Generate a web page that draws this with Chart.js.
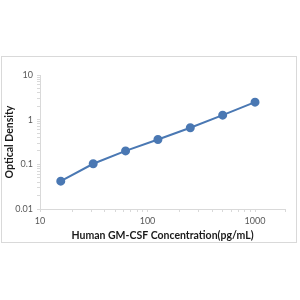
<!DOCTYPE html>
<html><head><meta charset="utf-8">
<script src="https://cdn.jsdelivr.net/npm/chart.js@4/dist/chart.umd.min.js"></script>
<style>html,body{margin:0;padding:0;background:#fff}#w{width:300px;height:300px;position:relative}</style>
</head><body><div id="w"><canvas id="c" width="300" height="300"></canvas></div>
<script>
const concentrations = [15.6, 31.25, 62.5, 125, 250, 500, 1000];
const odValues = [0.042, 0.103, 0.2, 0.36, 0.66, 1.26, 2.47];
const xMajorTicks = [10, 100, 1000];
const yMajorTicks = [0.01, 0.1, 1, 10];
const xTitle = 'Human GM-CSF Concentration(pg/mL)';
const yTitle = 'Optical Density';

function minorList(min, max){
  const out = [];
  for (let d = min; d < max; d *= 10) {
    for (let k = 1; k < 10; k++) { const v = d*k; if (v <= max) out.push(v); }
  }
  out.push(max);
  return out.filter((v,i,a)=>a.indexOf(v)===i);
}
const isMajor = (v, majors) => majors.some(m => Math.abs(m - v)/m < 1e-9);

const borderPlugin = {
  id: 'frame',
  beforeDraw(chart){
    const ctx = chart.ctx; ctx.save();
    ctx.fillStyle='#fff'; ctx.fillRect(0,0,300,300);
    ctx.strokeStyle='#d9d9d9'; ctx.lineWidth=1;
    ctx.strokeRect(1.5,56.5,295,186);
    ctx.restore();
  }
};

const tickFont = {family:'Lato', size:9};
new Chart(document.getElementById('c'), {
  type:'line',
  data:{ datasets:[{
    data: concentrations.map((x,i)=>({x, y: odValues[i]})),
    borderColor:'#4a78b3', backgroundColor:'#4a78b3',
    borderWidth:2, pointRadius:3.5, pointHoverRadius:3.5, tension:0
  }]},
  options:{
    responsive:false, animation:false, devicePixelRatio:1,
    layout:{padding:{left:3, top:75, right:15, bottom:58}},
    plugins:{legend:{display:false}, tooltip:{enabled:false}},
    scales:{
      x:{ type:'logarithmic', min:10, max:1900,
        afterBuildTicks(s){ s.ticks = minorList(10,1900).map(v=>({value:v})); },
        afterFit(s){ s.height = 33; },
        ticks:{ autoSkip:false, maxRotation:0, font:tickFont, color:'#595959', padding:4,
          callback(v){ return isMajor(v, xMajorTicks) ? String(v) : ''; } },
        grid:{ drawOnChartArea:false, tickLength:3, color:'#d9d9d9' },
        border:{ color:'#d9d9d9' },
        title:{ display:true, text:xTitle, color:'#1a1a1a', font:{family:'Lato', size:10.5, weight:'bold'}, padding:{top:0,bottom:0} }
      },
      y:{ type:'logarithmic', min:0.01, max:10,
        afterBuildTicks(s){ s.ticks = minorList(0.01,10).map(v=>({value:v})); },
        afterFit(s){ s.width = 37; },
        ticks:{ autoSkip:false, font:tickFont, color:'#595959', padding:4,
          callback(v){ if(!isMajor(v, yMajorTicks)) return ''; return v>=1?String(v):String(Number(v.toPrecision(1))); } },
        grid:{ drawOnChartArea:false, tickLength:3, color:'#d9d9d9' },
        border:{ color:'#d9d9d9' },
        title:{ display:true, text:yTitle, color:'#1a1a1a', font:{family:'Lato', size:10.5, weight:'bold'}, padding:{top:0,bottom:0} }
      }
    }
  },
  plugins:[borderPlugin]
});
</script></body></html>
